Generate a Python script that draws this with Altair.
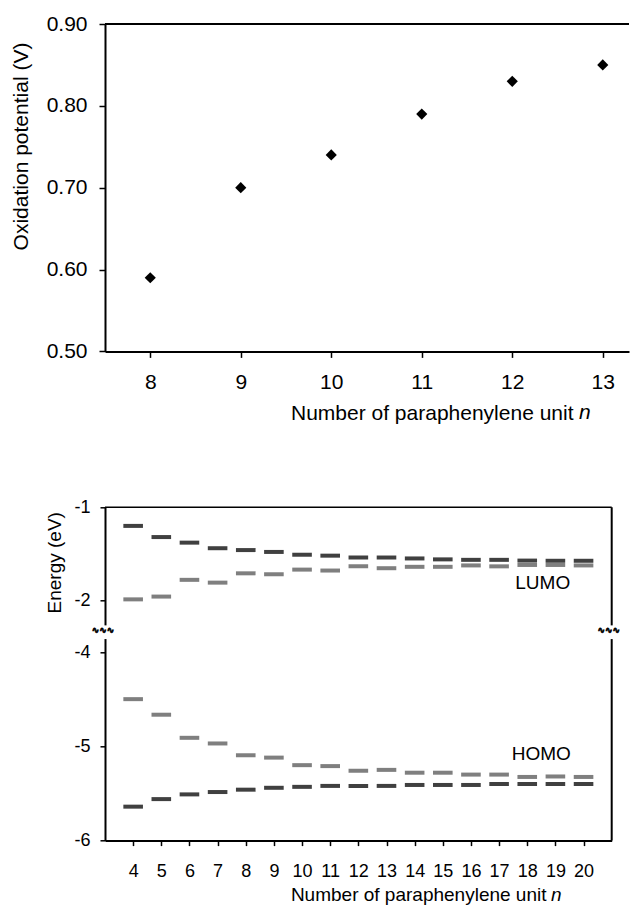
import altair as alt
import pandas as pd

# ---------------- data ----------------
# top panel: oxidation potential vs n
ox_n = [8, 9, 10, 11, 12, 13]
ox_v = [0.59, 0.70, 0.74, 0.79, 0.83, 0.85]

# bottom panel: energy levels vs n
n_units = list(range(4, 21))
lumo_upper = [-1.20, -1.32, -1.38, -1.44, -1.46, -1.48, -1.51, -1.52, -1.54,
              -1.54, -1.55, -1.56, -1.565, -1.565, -1.573, -1.575, -1.575]
lumo_lower = [-1.99, -1.96, -1.78, -1.81, -1.71, -1.72, -1.67, -1.68, -1.635,
              -1.655, -1.64, -1.64, -1.625, -1.635, -1.62, -1.62, -1.625]
homo_upper = [-4.50, -4.665, -4.91, -4.97, -5.095, -5.12, -5.20, -5.21, -5.26,
              -5.25, -5.28, -5.28, -5.30, -5.30, -5.325, -5.32, -5.325]
homo_lower = [-5.64, -5.56, -5.51, -5.485, -5.46, -5.44, -5.43, -5.42, -5.42,
              -5.42, -5.41, -5.41, -5.41, -5.40, -5.40, -5.40, -5.40]

level_labels = ["LUMO", "HOMO"]
level_label_n = [18.55, 18.5]
level_label_e = [-1.81, -5.08]

y_ticks_top = [0.5, 0.6, 0.7, 0.8, 0.9]
y_ticks_bottom = [-6, -5, -4, -2, -1]
break_mid = -3.15
break_lo, break_hi = -3.5, -2.97

FONT = "Liberation Sans"
one = pd.DataFrame({"k": [0]})

# ---------------- top chart ----------------
W1, H1 = 524, 327.4
top_df = pd.DataFrame({"n": ox_n, "v": ox_v})

x1 = alt.X(
    "n:Q",
    scale=alt.Scale(domain=[7.5, 13.29], nice=False, zero=False),
    axis=alt.Axis(values=ox_n, format="d", title="Number of paraphenylene unit",
                  titleX=468, titleY=62, titleAlign="right", titleBaseline="middle",
                  titleFontSize=21, labelFontSize=21, tickSize=6, labelPadding=14,
                  domainWidth=2, tickWidth=1.5, labelOverlap=False),
)
y1 = alt.Y(
    "v:Q",
    scale=alt.Scale(domain=[0.5, 0.9], nice=False, zero=False),
    axis=alt.Axis(values=y_ticks_top, format=".2f", title="Oxidation potential (V)",
                  titleX=-84, titleY=122, titleAngle=270, titleAlign="center",
                  titleBaseline="middle", titleFontSize=21, labelFontSize=21,
                  tickSize=6, labelPadding=12, domainWidth=2, tickWidth=1.5,
                  labelOverlap=False),
)

points = alt.Chart(top_df).mark_point(
    shape="diamond", filled=True, size=125, color="black", opacity=1
).encode(x=x1, y=y1)

top_line = alt.Chart(one).mark_rule(color="black", strokeWidth=2).encode(
    x=alt.value(0), x2=alt.value(W1), y=alt.value(0))

n_top = alt.Chart(one).mark_text(
    text="n", font=FONT, fontSize=21, fontStyle="italic", align="left",
    baseline="middle", color="black"
).encode(x=alt.value(474), y=alt.value(H1 + 62))

top = alt.layer(points, top_line, n_top).properties(width=W1, height=H1)

# ---------------- bottom chart ----------------
W2, H2 = 506.7, 333.3
tones = ["dark"] * 17 + ["light"] * 17 + ["light"] * 17 + ["dark"] * 17
bottom_df = pd.DataFrame({
    "n": n_units * 4,
    "e": lumo_upper + lumo_lower + homo_upper + homo_lower,
    "tone": tones,
})
lab_df = pd.DataFrame({"n": level_label_n, "e": level_label_e, "t": level_labels})

x2 = alt.X(
    "n:Q",
    scale=alt.Scale(domain=[3, 21], nice=False, zero=False),
    axis=alt.Axis(values=n_units, format="d", title="Number of paraphenylene unit",
                  titleX=441, titleY=54, titleAlign="right", titleBaseline="middle",
                  titleFontSize=19, labelFontSize=18, tickSize=5, labelPadding=17,
                  domainWidth=2, tickWidth=1.5, labelOverlap=False),
)
y2 = alt.Y(
    "e:Q",
    scale=alt.Scale(domain=[-6, -4, -2, -1], range=[H2, 144.7, 93, 0],
                    nice=False, zero=False),
    axis=alt.Axis(values=y_ticks_bottom, labelExpr="'' + datum.value",
                  title="Energy (eV)", titleX=-51, titleY=55, titleAngle=270,
                  titleAlign="center", titleBaseline="middle", titleFontSize=19,
                  labelFontSize=18, tickSize=5, labelPadding=10, domainWidth=2,
                  tickWidth=1.5, labelOverlap=False),
)

levels = alt.Chart(bottom_df).mark_tick(
    orient="horizontal", size=19.6, thickness=4, opacity=1
).encode(
    x=x2, y=y2,
    color=alt.Color("tone:N", scale=alt.Scale(domain=["dark", "light"],
                                              range=["#404040", "#7f7f7f"]),
                    legend=None),
)

border_top = alt.Chart(one).mark_rule(color="black", strokeWidth=1.5).encode(
    x=alt.value(0), x2=alt.value(W2), y=alt.value(0))
border_right = alt.Chart(one).mark_rule(color="black", strokeWidth=2).encode(
    x=alt.value(W2), y=alt.value(0), y2=alt.value(H2))

gap_left = alt.Chart(one).mark_rect(color="white").encode(
    x=alt.value(-5), x2=alt.value(5), y=alt.datum(break_hi), y2=alt.datum(break_lo))
gap_right = alt.Chart(one).mark_rect(color="white").encode(
    x=alt.value(W2 - 5), x2=alt.value(W2 + 5), y=alt.datum(break_hi), y2=alt.datum(break_lo))

sq_left = alt.Chart(one).mark_text(
    text="∿∿∿", font="DejaVu Sans", fontSize=9, fontWeight="bold", color="black",
    stroke="black", strokeWidth=0.7
).encode(x=alt.value(-2), y=alt.datum(break_mid))
sq_right = alt.Chart(one).mark_text(
    text="∿∿∿", font="DejaVu Sans", fontSize=9, fontWeight="bold", color="black",
    stroke="black", strokeWidth=0.7
).encode(x=alt.value(W2 - 3), y=alt.datum(break_mid))

level_text = alt.Chart(lab_df).mark_text(
    font=FONT, fontSize=19, color="black", baseline="middle"
).encode(x=x2, y=y2, text="t:N")

n_bottom = alt.Chart(one).mark_text(
    text="n", font=FONT, fontSize=19, fontStyle="italic", align="left",
    baseline="middle", color="black"
).encode(x=alt.value(446), y=alt.value(H2 + 54))

bottom = alt.layer(levels, border_top, border_right, gap_left, gap_right,
                   sq_left, sq_right, level_text, n_bottom).properties(width=W2, height=H2)

chart = alt.vconcat(top, bottom, spacing=155.3, bounds="flush").properties(
    padding={"left": 2, "top": 5, "right": 0, "bottom": 0}
).configure_view(stroke=None).configure_axis(
    grid=False, labelFont=FONT, titleFont=FONT, labelColor="black",
    titleColor="black", domainColor="black", tickColor="black",
    titleFontWeight="normal", labelFontWeight="normal"
)

chart.save("out.html", embed_options={"renderer": "svg", "actions": False})
